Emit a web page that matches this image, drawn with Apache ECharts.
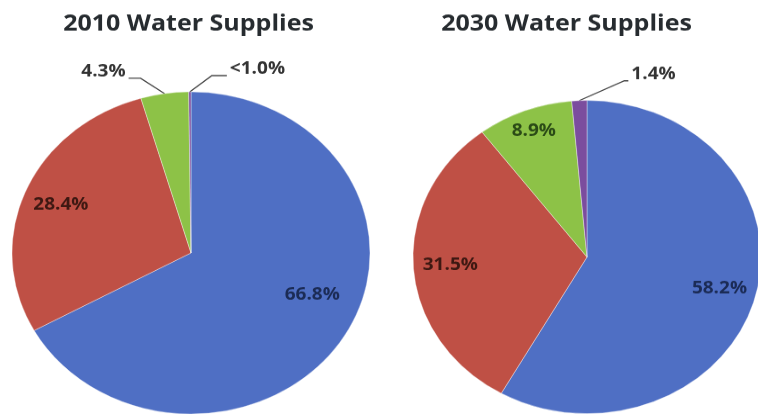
<!DOCTYPE html>
<html><head><meta charset="utf-8">
<script src="https://cdn.jsdelivr.net/npm/echarts@6/dist/echarts.min.js"></script>
<style>
html,body{margin:0;padding:0;background:#fff;overflow:hidden;width:758px;height:414px}
#c{width:758px;height:460px;transform:scaleY(0.9);transform-origin:0 0}
</style></head>
<body><div id="c"></div>
<script>
// ---- data ----
const categories = ['Supply A', 'Supply B', 'Supply C', 'Supply D'];
const titles = ['2010 Water Supplies', '2030 Water Supplies'];
const values2010 = [66.8, 28.4, 4.3, 0.2];
const labels2010 = ['66.8%', '28.4%', '4.3%', '<1.0%'];
const values2030 = [58.2, 31.5, 8.9, 1.4];
const labels2030 = ['58.2%', '31.5%', '8.9%', '1.4%'];

// ---- styles ----
const colors = ['#4f6fc4', '#bf5045', '#8dc247', '#7b4d9e'];
const insideLabelColors = ['#1b2b55', '#3d1812', '#2a4a16', '#333333'];
const FONT = 'Open Sans';

const pies = [
  { title: titles[0], titleX: 188.5, center: [191, 281], R: 179, values: values2010, labels: labels2010,
    inside: [0, 1], insideOffset: { 0: [0, -25] },
    outside: { 2: [-24, -17, -12], 3: [22, -18, 15] } },
  { title: titles[1], titleX: 566.5, center: [587, 285.6], R: 174, values: values2030, labels: labels2030,
    inside: [0, 1, 2], insideOffset: { 2: [-4, -12] },
    outside: { 3: [45, -22, 4] } }
];

const chart = echarts.init(document.getElementById('c'), null, { renderer: 'canvas' });

const series = [];
const title = [];
pies.forEach(function (p) {
  title.push({
    text: p.title, left: p.titleX, top: 14, textAlign: 'center', padding: 0,
    textStyle: { fontFamily: FONT, fontWeight: 'bold', fontSize: 25, color: '#262b2f' }
  });
  // main pie (slices + outside labels)
  series.push({
    type: 'pie', center: p.center, radius: [0, p.R], startAngle: 90, clockwise: true,
    avoidLabelOverlap: false, animation: false, silent: true,
    itemStyle: { borderColor: 'rgba(255,255,255,0.6)', borderWidth: 0.6 },
    emphasis: { disabled: true },
    data: p.values.map(function (v, i) {
      const out = p.outside[i] !== undefined;
      return {
        name: categories[i], value: v,
        itemStyle: { color: colors[i] },
        label: { show: out, position: 'outside', formatter: p.labels[i],
                 fontFamily: FONT, fontWeight: 'bold', fontSize: 19, color: '#333333' },
        labelLine: { show: out, length: 15, length2: 10, lineStyle: { color: '#4a4a4a', width: 1.3 } }
      };
    }),
    labelLayout: function (params) {
      const g = p.outside[params.dataIndex];
      if (!g || !params.labelLinePoints) return {};
      const p0 = params.labelLinePoints[0];
      const p1 = [p0[0] + g[0], p0[1] + g[1]];
      const p2 = [p1[0] + g[2], p1[1]];
      const right = g[2] >= 0;
      return {
        x: p2[0] + (right ? 3 : -3), y: p2[1] - 7,
        align: right ? 'left' : 'right', verticalAlign: 'middle',
        labelLinePoints: [p0, p1, p2]
      };
    }
  });
  // transparent ring carrying the inside labels
  series.push({
    type: 'pie', center: p.center, radius: [p.R * 0.54, p.R], startAngle: 90, clockwise: true,
    avoidLabelOverlap: false, animation: false, silent: true,
    emphasis: { disabled: true },
    itemStyle: { color: 'rgba(0,0,0,0)', borderWidth: 0 },
    labelLine: { show: false },
    data: p.values.map(function (v, i) {
      const show = p.inside.indexOf(i) >= 0;
      return {
        name: categories[i], value: v,
        label: { show: show, position: 'inside', rotate: 0, formatter: p.labels[i],
                 offset: p.insideOffset[i] || [0, 0],
                 fontFamily: FONT, fontWeight: 'bold', fontSize: 19, color: insideLabelColors[i],
                 textBorderWidth: 0 }
      };
    })
  });
});

chart.setOption({ backgroundColor: '#ffffff', animation: false, title: title, series: series });
</script>
</body></html>
